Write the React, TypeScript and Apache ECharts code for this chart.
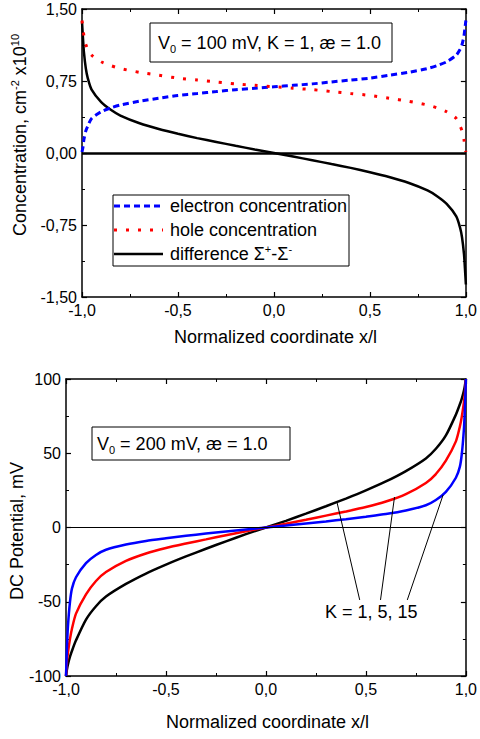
import React, { useEffect, useRef } from "react";
import * as echarts from "echarts";

const FONT = "'Liberation Sans', Arial, sans-serif";

// ---- Top chart: concentrations (units of 10^10 cm^-2) ----
const X_TOP = [-1, -0.995, -0.99, -0.98, -0.97, -0.95, -0.9, -0.85, -0.8, -0.7, -0.6, -0.5, -0.4, -0.3, -0.2, -0.1, 0,
  0.1, 0.2, 0.3, 0.4, 0.5, 0.6, 0.7, 0.8, 0.85, 0.9, 0.95, 0.97, 0.98, 0.99, 0.995, 1];
const ELECTRON = [0.01, 0.06, 0.14, 0.23, 0.28, 0.36, 0.43, 0.47, 0.5, 0.54, 0.57, 0.6, 0.62, 0.64, 0.66, 0.675, 0.69,
  0.705, 0.72, 0.74, 0.76, 0.78, 0.81, 0.84, 0.88, 0.91, 0.95, 1.02, 1.08, 1.13, 1.22, 1.3, 1.38];
const HOLE = [1.38, 1.3, 1.22, 1.13, 1.08, 1.02, 0.95, 0.91, 0.88, 0.84, 0.81, 0.78, 0.76, 0.74, 0.72, 0.705, 0.69,
  0.675, 0.66, 0.64, 0.62, 0.6, 0.57, 0.54, 0.5, 0.47, 0.43, 0.36, 0.28, 0.23, 0.14, 0.06, 0.01];
const DIFF = [1.37, 1.2, 1.05, 0.88, 0.78, 0.66, 0.53, 0.45, 0.39, 0.31, 0.25, 0.2, 0.155, 0.115, 0.075, 0.037, 0,
  -0.037, -0.075, -0.115, -0.155, -0.2, -0.25, -0.31, -0.39, -0.45, -0.53, -0.66, -0.78, -0.88, -1.05, -1.2, -1.37];

// ---- Bottom chart: DC potential (mV) ----
const X_BOT = X_TOP;
const K1 = [-100, -95.5, -92, -87, -83, -76, -62, -53, -46.5, -38, -31, -25, -19.5, -14.3, -9.3, -4.5, 0,
  4.5, 9.3, 14.3, 19.5, 25, 31, 38, 46.5, 53, 62, 76, 83, 87, 92, 95.5, 100];
const K5 = [-100, -90, -84, -75, -68, -58, -45, -36, -30, -22.5, -17.5, -13.8, -10.8, -8, -5.2, -2.5, 0,
  2.5, 5.2, 8, 10.8, 13.8, 17.5, 22.5, 30, 36, 45, 58, 68, 75, 84, 90, 100];
const K15 = [-100, -80, -66, -50, -41, -33.5, -24, -18.5, -15, -11.5, -9.1, -7.3, -5.6, -4.1, -2.7, -1.3, 0,
  1.3, 2.7, 4.1, 5.6, 7.3, 9.1, 11.5, 15, 18.5, 24, 33.5, 41, 50, 66, 80, 100];

// leader lines for "K = 1, 5, 15" (data coordinates)
const LEADER_FROM = [[0.355, 17.2], [0.643, 20.5], [0.886, 21.9]];
const LEADER_TO = [[0.469, -48.8], [0.573, -48.8], [0.707, -48.8]];

const X_TICKS = { min: -1, max: 1, interval: 0.5 };
const Y_TOP_TICKS = { min: -1.5, max: 1.5, interval: 0.75 };
const Y_BOT_TICKS = { min: -100, max: 100, interval: 50 };

const pairs = (xs: number[], ys: number[]) => xs.map((x, i) => [x, ys[i]]);

const axisLine = { show: true, onZero: false, lineStyle: { color: "#000", width: 1.5 } };
const axisTick = { show: true, inside: true, length: 5, lineStyle: { color: "#000", width: 1.2 } };
const minorTick = { show: true, splitNumber: 2, length: 3, lineStyle: { color: "#000", width: 1 } };

function axis(gridIndex: number, position: string, ticks: any, fmt: ((v: number) => string) | null) {
  return {
    type: "value",
    gridIndex,
    position,
    ...ticks,
    axisLine,
    axisTick,
    minorTick,
    splitLine: { show: false },
    minorSplitLine: { show: false },
    axisLabel: fmt
      ? { show: true, formatter: fmt, color: "#000", fontSize: 16, fontFamily: FONT, margin: 5 }
      : { show: false },
  };
}

const fx = (v: number) => v.toFixed(1).replace(".", ",");
const fyTop = (v: number) => v.toFixed(2).replace(".", ",");
const fyBot = (v: number) => String(Math.round(v));

function text(x: number, y: number, t: string, extra: any = {}) {
  return {
    type: "text",
    x,
    y,
    z: 100,
    ...extra,
    style: {
      text: t,
      fill: "#000",
      fontSize: 18,
      fontFamily: FONT,
      align: "left",
      verticalAlign: "middle",
      ...(extra.style || {}),
    },
  };
}

const richMain = { fontSize: 18, fontFamily: FONT, fill: "#000", lineHeight: 22 };
const richSup = { fontSize: 11, fontFamily: FONT, fill: "#000", lineHeight: 22, verticalAlign: "top" };
const richSub = { fontSize: 11, fontFamily: FONT, fill: "#000", lineHeight: 22, verticalAlign: "bottom" };

function lineSeries(name: string, xi: number, yi: number, xs: number[], ys: number[], lineStyle: any, extra: any = {}) {
  return {
    name,
    type: "line",
    xAxisIndex: xi,
    yAxisIndex: yi,
    data: pairs(xs, ys),
    showSymbol: false,
    smooth: 0.25,
    lineStyle,
    ...extra,
  };
}

export default function App() {
  const ref = useRef<HTMLDivElement>(null);
  useEffect(() => {
    document.body.style.margin = "0";
    const chart = echarts.init(ref.current!, null, { renderer: "svg" });
    const option: any = {
      animation: false,
      backgroundColor: "#fff",
      grid: [
        { left: 82, top: 9, width: 387, height: 288 },
        { left: 66, top: 379, width: 403, height: 297 },
      ],
      xAxis: [
        axis(0, "bottom", X_TICKS, fx),
        axis(0, "top", X_TICKS, null),
        axis(1, "bottom", X_TICKS, fx),
        axis(1, "top", X_TICKS, null),
      ],
      yAxis: [
        axis(0, "left", Y_TOP_TICKS, fyTop),
        axis(0, "right", Y_TOP_TICKS, null),
        axis(1, "left", Y_BOT_TICKS, fyBot),
        axis(1, "right", Y_BOT_TICKS, null),
      ],
      series: [
        lineSeries("difference", 0, 0, X_TOP, DIFF, { color: "#000", width: 2.5 }, {
          markLine: {
            silent: true,
            symbol: ["none", "none"],
            label: { show: false },
            lineStyle: { color: "#000", width: 2.5, type: "solid" },
            data: [{ yAxis: 0 }],
          },
        }),
        lineSeries("electron", 0, 0, X_TOP, ELECTRON, { color: "#0000ff", width: 3, type: [6, 4] }),
        lineSeries("hole", 0, 0, X_TOP, HOLE, { color: "#ff0000", width: 3, type: [3, 9] }),
        lineSeries("K=1", 2, 2, X_BOT, K1, { color: "#000", width: 2.5 }, {
          markLine: {
            silent: true,
            symbol: ["none", "none"],
            label: { show: false },
            lineStyle: { color: "#000", width: 1.2, type: "solid" },
            data: [
              { yAxis: 0 },
              ...LEADER_FROM.map((p, i) => [
                { coord: p, lineStyle: { width: 1, color: "#000", type: "solid" } },
                { coord: LEADER_TO[i] },
              ]),
            ],
          },
        }),
        lineSeries("K=5", 2, 2, X_BOT, K5, { color: "#ff0000", width: 2.5 }),
        lineSeries("K=15", 2, 2, X_BOT, K15, { color: "#0000ff", width: 2.5 }),
      ],
      graphic: [
        // annotation box top
        { type: "rect", z: 99, shape: { x: 150, y: 23, width: 242, height: 39 }, style: { fill: "#fff", stroke: "#000", lineWidth: 1 } },
        text(158, 43, "{a|V}{s|0}{a| = 100 mV, K = 1, æ = 1.0}", {
          style: { rich: { a: richMain, s: richSub } },
        }),
        // legend
        { type: "rect", z: 99, shape: { x: 113, y: 195, width: 236, height: 71 }, style: { fill: "#fff", stroke: "#000", lineWidth: 1 } },
        { type: "line", z: 100, shape: { x1: 114, y1: 206, x2: 163, y2: 206 }, style: { stroke: "#0000ff", lineWidth: 3, lineDash: [6, 4] } },
        { type: "line", z: 100, shape: { x1: 114, y1: 230, x2: 163, y2: 230 }, style: { stroke: "#ff0000", lineWidth: 3, lineDash: [3, 9] } },
        { type: "line", z: 100, shape: { x1: 114, y1: 254, x2: 163, y2: 254 }, style: { stroke: "#000", lineWidth: 2.5 } },
        text(170, 206, "electron concentration"),
        text(170, 230, "hole concentration"),
        text(170, 254, "{a|difference Σ}{s|+}{a|-Σ}{s|-}", { style: { rich: { a: richMain, s: richSup } } }),
        // axis titles top
        text(20, 135, "{a|Concentration, cm}{s|-2}{a| x10}{s|10}", {
          rotation: Math.PI / 2,
          style: { align: "center", rich: { a: richMain, s: richSup } },
        }),
        text(275.5, 337, "Normalized coordinate x/l", { style: { align: "center" } }),
        // annotation box bottom
        { type: "rect", z: 99, shape: { x: 92, y: 427, width: 198, height: 33 }, style: { fill: "#fff", stroke: "#000", lineWidth: 1 } },
        text(97, 444, "{a|V}{s|0}{a| = 200 mV, æ = 1.0}", { style: { rich: { a: richMain, s: richSub } } }),
        text(325, 612, "K = 1, 5, 15"),
        // axis titles bottom
        text(17, 531, "DC Potential, mV", { rotation: Math.PI / 2, style: { align: "center" } }),
        text(267.5, 722, "Normalized coordinate x/l", { style: { align: "center" } }),
      ],
    };
    chart.setOption(option);
    return () => chart.dispose();
  }, []);
  return <div ref={ref} style={{ width: 480, height: 739 }} />;
}
